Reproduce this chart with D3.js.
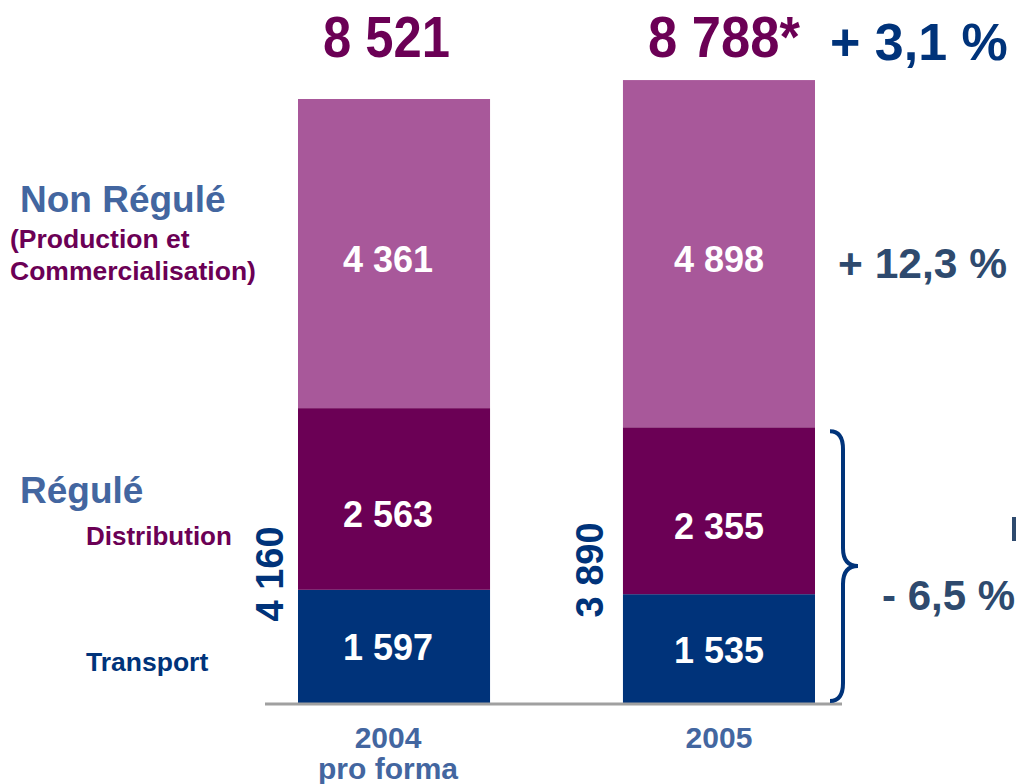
<!DOCTYPE html>
<html>
<head>
<meta charset="utf-8">
<script src="https://cdn.jsdelivr.net/npm/d3@7"></script>
<style>
  body { margin: 0; background: #fff; }
  text { font-family: "Liberation Sans", Arial, sans-serif; font-weight: bold; }
</style>
</head>
<body>
<div id="chart"></div>
<script>
// data
var years = ["2004", "2005"];
var yearSub = ["pro forma", ""];
var transport = [1597, 1535];
var distribution = [2563, 2355];
var nonRegule = [4361, 4898];
var totals = ["8 521", "8 788*"];
var reguleTotals = ["4 160", "3 890"];

var svg = d3.select("#chart").append("svg")
    .attr("width", 1016)
    .attr("height", 784);

var x = d3.scaleBand().domain(years).range([298, 815]).paddingInner(0.409).paddingOuter(0);
var y = d3.scaleLinear().domain([0, 8521]).range([703, 99]);

var fmt = function(v) { return d3.format(",")(v).replace(",", " "); };
var labelShift = [-6, 0];

var layers = [
    { vals: transport, color: "#00337A", dy: 14 },
    { vals: distribution, color: "#6B0055", dy: 28 },
    { vals: nonRegule, color: "#A8589A", dy: 18 }
];

years.forEach(function(yr, i) {
    var base = 0;
    layers.forEach(function(l) {
        var v = l.vals[i];
        svg.append("rect")
            .attr("x", x(yr))
            .attr("width", x.bandwidth())
            .attr("y", y(base + v))
            .attr("height", y(base) - y(base + v))
            .attr("fill", l.color);
        svg.append("text")
            .attr("x", x(yr) + x.bandwidth() / 2 + labelShift[i])
            .attr("y", (y(base) + y(base + v)) / 2 + l.dy)
            .attr("text-anchor", "middle")
            .attr("font-size", 36)
            .attr("fill", "#fff")
            .text(fmt(v));
        base += v;
    });
});

// baseline
svg.append("line")
    .attr("x1", 265).attr("x2", 842)
    .attr("y1", 704).attr("y2", 704)
    .attr("stroke", "#A0A0A0").attr("stroke-width", 3);

// totals
svg.append("text").attr("x", 323).attr("y", 57)
    .attr("textLength", 127).attr("lengthAdjust", "spacingAndGlyphs")
    .attr("font-size", 57).attr("fill", "#6B0055").text(totals[0]);
svg.append("text").attr("x", 648).attr("y", 57)
    .attr("textLength", 152).attr("lengthAdjust", "spacingAndGlyphs")
    .attr("font-size", 57).attr("fill", "#6B0055").text(totals[1]);
svg.append("text").attr("x", 830).attr("y", 60)
    .attr("font-size", 52).attr("fill", "#00337A").text("+ 3,1 %");

// left labels
svg.append("text").attr("x", 20).attr("y", 212).attr("font-size", 37).attr("fill", "#4366A0").text("Non Régulé");
svg.append("text").attr("x", 10).attr("y", 248).attr("font-size", 26.5).attr("fill", "#6B0055").text("(Production et");
svg.append("text").attr("x", 10).attr("y", 280).attr("font-size", 26.5).attr("fill", "#6B0055").text("Commercialisation)");
svg.append("text").attr("x", 20).attr("y", 503).attr("font-size", 37).attr("fill", "#4366A0").text("Régulé");
svg.append("text").attr("x", 86).attr("y", 545).attr("font-size", 26).attr("fill", "#6B0055").text("Distribution");
svg.append("text").attr("x", 86).attr("y", 671).attr("font-size", 26.5).attr("fill", "#00337A").text("Transport");

// regulated subtotals, rotated
var rotX = [283, 603];
var rotY = [574, 570];
years.forEach(function(yr, i) {
    svg.append("text")
        .attr("transform", "translate(" + rotX[i] + "," + rotY[i] + ") rotate(-90)")
        .attr("text-anchor", "middle")
        .attr("font-size", 38).attr("fill", "#00337A")
        .text(reguleTotals[i]);
});

// x labels
years.forEach(function(yr, i) {
    var cx = x(yr) + x.bandwidth() / 2 + labelShift[i];
    svg.append("text").attr("x", cx).attr("y", 748).attr("text-anchor", "middle")
        .attr("font-size", 30).attr("fill", "#4366A0").text(yr);
    if (yearSub[i]) {
        svg.append("text").attr("x", cx).attr("y", 779).attr("text-anchor", "middle")
            .attr("font-size", 30).attr("fill", "#4366A0").text(yearSub[i]);
    }
});

// growth labels
svg.append("text").attr("x", 838).attr("y", 278).attr("font-size", 42.5).attr("fill", "#2E4A6E").text("+ 12,3 %");
svg.append("text").attr("x", 882).attr("y", 610).attr("font-size", 42).attr("fill", "#2E4A6E").text("- 6,5 %");
svg.append("rect").attr("x", 1012).attr("y", 517).attr("width", 4).attr("height", 24).attr("fill", "#2E4A6E");

// brace
var bTop = y(transport[1] + distribution[1]) + 4, bBot = y(0) - 2, bMid = 566;
var bx = 830;
var path = d3.path();
path.moveTo(bx, bTop);
path.quadraticCurveTo(bx + 13, bTop, bx + 13, bTop + 18);
path.lineTo(bx + 13, bMid - 18);
path.quadraticCurveTo(bx + 13, bMid, bx + 28, bMid);
path.quadraticCurveTo(bx + 13, bMid, bx + 13, bMid + 18);
path.lineTo(bx + 13, bBot - 18);
path.quadraticCurveTo(bx + 13, bBot, bx, bBot);
svg.append("path").attr("d", path.toString())
    .attr("fill", "none").attr("stroke", "#00337A").attr("stroke-width", 4);
</script>
</body>
</html>
